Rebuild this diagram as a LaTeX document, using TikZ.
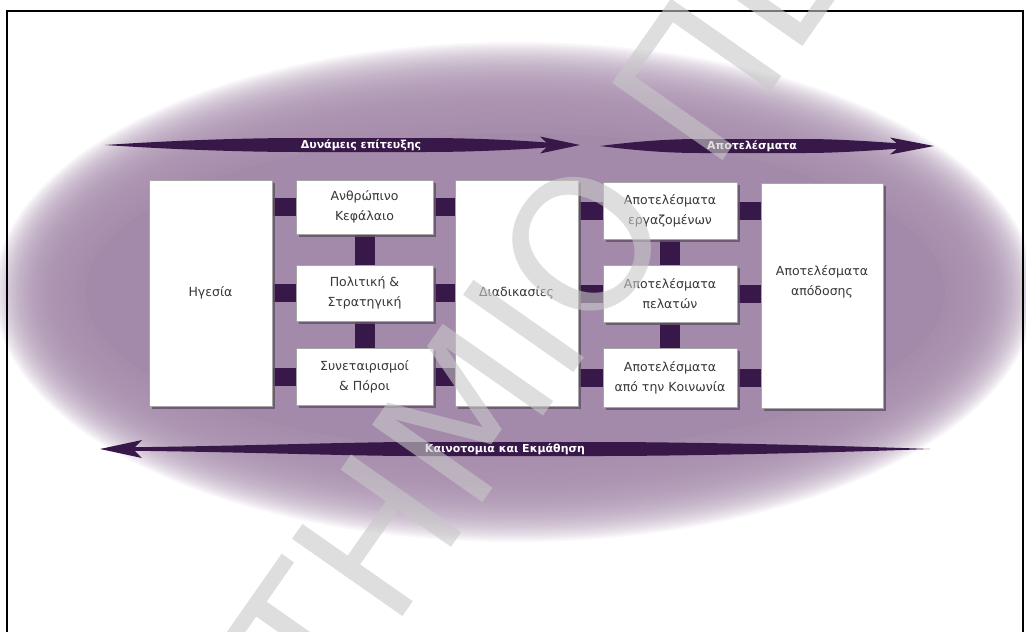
\documentclass[tikz,border=0pt]{standalone}
\usepackage{fontspec}
\setmainfont{DejaVu Sans}
\usetikzlibrary{shadows}
\definecolor{mauve}{RGB}{164,138,170}
\definecolor{plum}{RGB}{56,24,72}
\definecolor{boxtext}{RGB}{55,55,55}
\definecolor{boxshade}{RGB}{100,84,105}
\definecolor{stamp}{RGB}{200,200,200}
\pgfdeclarelayer{bg}
\pgfdeclarelayer{links}
\pgfdeclarelayer{top}
\pgfsetlayers{bg,links,main,top}
\begin{document}
\begin{tikzpicture}[x=1pt,y=-1pt,
  box/.style={draw=black!35, line width=0.6pt, fill=white, inner sep=2pt,
    align=center, font=\fontsize{12.5}{20}\selectfont, text=boxtext,
    drop shadow={shadow xshift=2.5pt, shadow yshift=-2.5pt, fill=boxshade, opacity=0.85}},
  link/.style={draw=plum, line width=18pt, shorten <=-2pt, shorten >=-2pt},
  band/.style={fill=plum},
  bandtext/.style={text=white, font=\fontsize{11}{12}\selectfont\bfseries, inner sep=0pt}]

\useasboundingbox (0,0) rectangle (1026,632);

% soft mauve oval behind the model
\begin{pgfonlayer}{bg}
  \foreach \k in {0,...,50}
    \fill[mauve, opacity=0.07] (515,292) ellipse ({521-1.8*\k} and {250-1.8*\k});
  \fill[mauve] (515,292) ellipse (430 and 159);
\end{pgfonlayer}

% frame
\draw[line width=2pt] (7,632) -- (7,11) -- (1023,11) -- (1023,632);

% enablers
\node[box, minimum width=123pt, minimum height=226pt] (hg) at (210.5,293) {Ηγεσία};
\node[box, minimum width=137pt, minimum height=54pt] (ak) at (364.5,207) {Ανθρώπινο\\Κεφάλαιο};
\node[box, minimum width=137pt, minimum height=56pt] (ps) at (364.5,293) {Πολιτική \&\\Στρατηγική};
\node[box, minimum width=137pt, minimum height=57pt] (sp) at (364.5,376.5) {Συνεταιρισμοί\\\& Πόροι};
\node[box, minimum width=123pt, minimum height=226pt] (dd) at (516.5,293) {Διαδικασίες};

% results
\node[box, minimum width=134pt, minimum height=57pt] (ae) at (670,210.5) {Αποτελέσματα\\εργαζομένων};
\node[box, minimum width=134pt, minimum height=57pt] (ap) at (670,293.5) {Αποτελέσματα\\πελατών};
\node[box, minimum width=134pt, minimum height=59pt] (ac) at (670,377.5) {Αποτελέσματα\\από την Κοινωνία};
\node[box, minimum width=122pt, minimum height=225pt,
  label={[align=center, font=\fontsize{12.5}{20}\selectfont, text=boxtext, yshift=14pt]center:Αποτελέσματα\\απόδοσης}] (aa) at (822,295.5) {};

% links between the boxes
\begin{pgfonlayer}{links}
  \foreach \b in {ak,ps,sp} {
    \draw[link] (hg.east |- \b) -- (\b.west);
    \draw[link] (\b.east) -- (dd.west |- \b);
  }
  \foreach \b in {ae,ap,ac} {
    \draw[link] (dd.east |- \b) -- (\b.west);
    \draw[link] (\b.east) -- (aa.west |- \b);
  }
  \draw[link, line width=20pt] (ak.south) -- (ps.north);
  \draw[link, line width=20pt] (ps.south) -- (sp.north);
  \draw[link, line width=20pt] (ae.south) -- (ap.north);
  \draw[link, line width=20pt] (ap.south) -- (ac.north);
\end{pgfonlayer}

% band: Δυνάμεις επίτευξης
\fill[band] (105,145) .. controls (180,140) and (250,138) .. (300,138) -- (425,138)
  .. controls (480,138) and (530,141) .. (560,143.5) -- (560,146.5)
  .. controls (530,149) and (480,152) .. (425,152) -- (300,152)
  .. controls (250,152) and (180,150) .. cycle;
\fill[band] (580,145) -- (540,136.5) -- (549,145) -- (540,153.5) -- cycle;
\node[bandtext] (t1) at (361,145) {Δυνάμεις επίτευξης};

% band: Αποτελέσματα
\fill[band] (600,146) .. controls (640,141) and (670,139) .. (700,139) -- (805,139)
  .. controls (840,139) and (880,142) .. (915,144.5) -- (915,147.5)
  .. controls (880,150) and (840,153) .. (805,153) -- (700,153)
  .. controls (670,153) and (640,151) .. cycle;
\fill[band] (934,146) -- (890,137.5) -- (900,146) -- (890,154.5) -- cycle;
\node[bandtext] (t2) at (752,146) {Αποτελέσματα};

% band: Καινοτομια και Εκμάθηση
\fill[band] (112,447.5) .. controls (250,446) and (350,442) .. (415,442) -- (598,442)
  .. controls (700,442) and (850,446) .. (930,449)
  .. controls (850,452) and (700,456) .. (598,456) -- (415,456)
  .. controls (350,456) and (250,452) .. (112,450.5) -- cycle;
\fill[band] (100,449) -- (142,440) -- (133,449) -- (142,458) -- cycle;
\node[bandtext] (t3) at (505,449) {Καινοτομια και Εκμάθηση};

% diagonal stamp lettering over the page
\begin{pgfonlayer}{top}
  \clip (0,0) rectangle (1026,632);
  \node[anchor=base west, rotate=55, inner sep=0pt, text=stamp, opacity=0.6,
    font=\fontsize{185}{185}\selectfont] (stamp) at (327.5,724.6) {ΤΗΜΙΟ ΠΕ};
\end{pgfonlayer}

\end{tikzpicture}
\end{document}
